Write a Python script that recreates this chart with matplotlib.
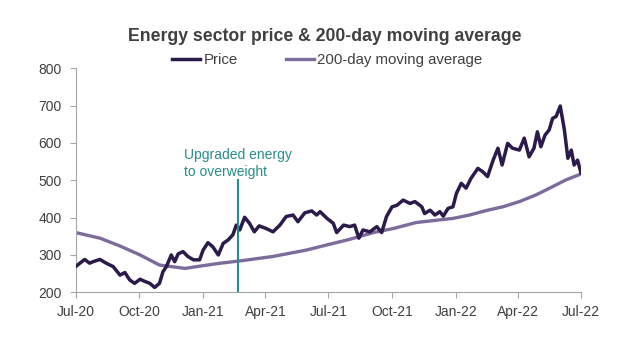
import matplotlib
matplotlib.use('Agg')
import matplotlib.pyplot as plt
import pandas as pd

plt.rcParams.update({
    'font.family': ['Liberation Sans', 'DejaVu Sans'],
    'font.size': 10,
    'text.color': '#404040',
    'xtick.color': '#a6a6a6',
    'ytick.color': '#a6a6a6',
    'xtick.labelcolor': '#404040',
    'ytick.labelcolor': '#404040',
})

# Energy sector price
price_dates = [
    '2020-07-01', '2020-07-07', '2020-07-14', '2020-07-21', '2020-07-26', '2020-08-05',
    '2020-08-14', '2020-08-24', '2020-09-03', '2020-09-10', '2020-09-17', '2020-09-24',
    '2020-10-02', '2020-10-09', '2020-10-16', '2020-10-23', '2020-10-30', '2020-11-04',
    '2020-11-09', '2020-11-16', '2020-11-21', '2020-11-26', '2020-12-03', '2020-12-10',
    '2020-12-18', '2020-12-27', '2021-01-01', '2021-01-08', '2021-01-15', '2021-01-23',
    '2021-01-30', '2021-02-06', '2021-02-13', '2021-02-18', '2021-02-23', '2021-03-02',
    '2021-03-09', '2021-03-16', '2021-03-23', '2021-04-02', '2021-04-12', '2021-04-22',
    '2021-05-01', '2021-05-11', '2021-05-18', '2021-05-28', '2021-06-07', '2021-06-14',
    '2021-06-19', '2021-06-29', '2021-07-08', '2021-07-13', '2021-07-23', '2021-08-01',
    '2021-08-08', '2021-08-14', '2021-08-20', '2021-08-30', '2021-09-09', '2021-09-16',
    '2021-09-23', '2021-10-01', '2021-10-08', '2021-10-17', '2021-10-27', '2021-11-03',
    '2021-11-13', '2021-11-17', '2021-11-25', '2021-12-02', '2021-12-09', '2021-12-14',
    '2021-12-21', '2021-12-28', '2022-01-02', '2022-01-09', '2022-01-16', '2022-01-23',
    '2022-02-02', '2022-02-09', '2022-02-16', '2022-02-24', '2022-03-03', '2022-03-09',
    '2022-03-17', '2022-03-24', '2022-04-03', '2022-04-10', '2022-04-17', '2022-04-24',
    '2022-04-29', '2022-05-04', '2022-05-10', '2022-05-16', '2022-05-21', '2022-05-26',
    '2022-06-01', '2022-06-07', '2022-06-12', '2022-06-17', '2022-06-21', '2022-06-26',
    '2022-07-01',
]
price = [
    269, 278, 288, 278, 282, 288,
    278, 269, 246, 253, 233, 224,
    235, 229, 224, 213, 224, 255,
    269, 300, 282, 303, 309, 296,
    287, 287, 313, 333, 322, 300,
    331, 340, 354, 380, 367, 401,
    385, 362, 378, 371, 362, 380,
    403, 407, 389, 413, 418, 407,
    416, 398, 385, 360, 380, 376,
    380, 345, 367, 362, 376, 360,
    403, 429, 433, 447, 438, 443,
    429, 411, 420, 407, 416, 404,
    425, 429, 465, 492, 479, 505,
    532, 523, 510, 554, 586, 541,
    599, 586, 581, 613, 563, 586,
    630, 590, 621, 635, 666, 671,
    699, 635, 559, 581, 541, 554,
    520,
]

# 200-day moving average
ma_dates = [
    '2020-07-01', '2020-08-05', '2020-09-03', '2020-10-02', '2020-10-30', '2020-12-06',
    '2020-12-27', '2021-01-26', '2021-02-23', '2021-04-12', '2021-05-30', '2021-06-29',
    '2021-08-01', '2021-09-04', '2021-10-03', '2021-11-05', '2021-12-28', '2022-01-21',
    '2022-02-14', '2022-03-10', '2022-04-03', '2022-04-27', '2022-05-21', '2022-06-09',
    '2022-07-01',
]
ma200 = [
    360, 345, 324, 300, 273, 264,
    270, 278, 284, 296, 313, 327,
    342, 360, 371, 387, 398, 407,
    419, 429, 443, 461, 483, 501,
    517,
]

tick_dates = ['2020-07-01', '2020-10-01', '2021-01-01', '2021-04-01', '2021-07-01',
              '2021-10-01', '2022-01-01', '2022-04-01', '2022-07-01']
tick_labels = ['Jul-20', 'Oct-20', 'Jan-21', 'Apr-21', 'Jul-21',
               'Oct-21', 'Jan-22', 'Apr-22', 'Jul-22']

upgrade_date = '2021-02-20'

fig = plt.figure(figsize=(6.29, 3.4), dpi=100)
ax = fig.add_axes([0.1204, 0.1403, 0.8033, 0.6587])

ax.plot(pd.to_datetime(ma_dates), ma200, color='#7d6b9b', lw=2.4,
        label='200-day moving average', zorder=2)
ax.plot(pd.to_datetime(price_dates), price, color='#2b1b4a', lw=2.5,
        label='Price', zorder=3)

ud = pd.Timestamp(upgrade_date)
ax.plot([ud, ud], [200, 500], color='#2a8c8c', lw=1.5, zorder=4)
ax.text(pd.Timestamp('2020-12-05'), 545, 'Upgraded energy\nto overweight',
        color='#2a8c8c', fontsize=10, ha='left', va='center', linespacing=1.3)

ax.set_ylim(200, 800)
ax.set_yticks(range(200, 801, 100))
ax.set_xlim(pd.Timestamp(tick_dates[0]), pd.Timestamp(tick_dates[-1]))
ax.set_xticks(pd.to_datetime(tick_dates))
ax.set_xticklabels(tick_labels)
ax.tick_params(axis='both', labelsize=10, length=4, width=0.8, direction='out')
ax.tick_params(axis='x', pad=5)
ax.tick_params(axis='y', pad=6)

for s in ['top', 'right']:
    ax.spines[s].set_visible(False)
for s in ['left', 'bottom']:
    ax.spines[s].set_color('#a6a6a6')
    ax.spines[s].set_linewidth(0.8)

fig.text(0.517, 0.893, 'Energy sector price & 200-day moving average',
         ha='center', va='center', fontsize=12.7, fontweight='bold', color='#404040')

handles, labels = ax.get_legend_handles_labels()
fig.legend(handles[::-1], labels[::-1], loc='center', bbox_to_anchor=(0.52, 0.823),
           ncol=2, frameon=False, fontsize=10.8, handlelength=1.9,
           handletextpad=0.2, columnspacing=3.2, borderpad=0)

fig.savefig('out.png', dpi=100)
